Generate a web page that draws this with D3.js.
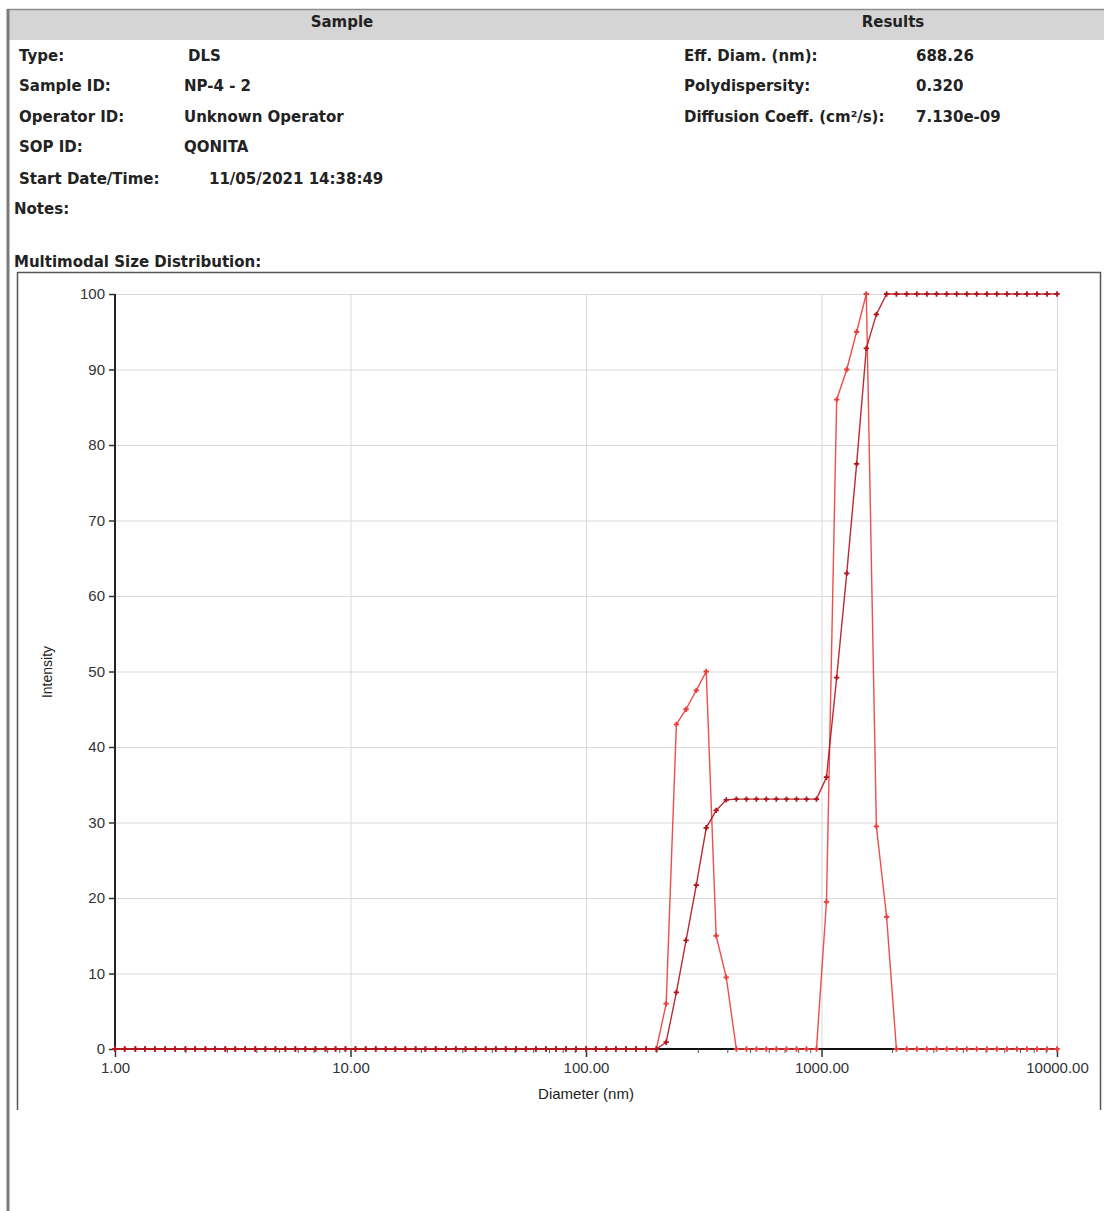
<!DOCTYPE html>
<html>
<head>
  <meta charset="utf-8">
  <script src="https://d3js.org/d3.v7.min.js"></script>
  <style>
    body { margin: 0; background: #fff; }
    svg { display: block; }
    .info { font-family: "DejaVu Sans", Verdana, sans-serif; font-size: 15px; font-weight: bold; fill: #222; }
    .head { font-family: "DejaVu Sans", Verdana, sans-serif; font-size: 15px; font-weight: bold; fill: #222; }
    .axis text { font-family: "Liberation Sans", Arial, sans-serif; font-size: 15px; fill: #333; }
  </style>
</head>
<body>
<script>
// bin diameters (nm), one marker per bin
var diameters = [
  1.00, 1.10, 1.22, 1.34, 1.48, 1.63, 1.80, 1.99, 2.19, 2.42, 2.66, 2.94, 3.24, 3.57, 3.94, 4.35, 4.80, 5.29, 5.83, 6.43, 7.10, 7.83, 8.64, 9.52,
  10.5, 11.6, 12.8, 14.1, 15.5, 17.1, 18.9, 20.8, 23.0, 25.4, 28.0, 30.8, 34.0, 37.5, 41.4, 45.6, 50.4, 55.5, 61.3, 67.6, 74.5, 82.2, 90.7,
  100, 110, 122, 134, 148, 163, 180, 199, 219, 242, 266, 294, 324, 357, 394, 435, 480, 529, 583, 643, 710, 783, 864, 952,
  1050, 1160, 1280, 1410, 1550, 1710, 1890, 2080, 2300, 2540, 2800, 3080, 3400, 3750, 4140, 4560, 5040, 5550, 6130, 6760, 7450, 8220, 9070,
  10000
];

// intensity distribution
var intensity = [
  0, 0, 0, 0, 0, 0, 0, 0, 0, 0, 0, 0, 0, 0, 0, 0, 0, 0, 0, 0, 0, 0, 0, 0,
  0, 0, 0, 0, 0, 0, 0, 0, 0, 0, 0, 0, 0, 0, 0, 0, 0, 0, 0, 0, 0, 0, 0,
  0, 0, 0, 0, 0, 0, 0, 0, 6, 43, 45, 47.5, 50, 15, 9.5, 0, 0, 0, 0, 0, 0, 0, 0, 0,
  19.5, 86, 90, 95, 100, 29.5, 17.5, 0, 0, 0, 0, 0, 0, 0, 0, 0, 0, 0, 0, 0, 0, 0, 0,
  0
];

// cumulative intensity
var cumulative = [
  0, 0, 0, 0, 0, 0, 0, 0, 0, 0, 0, 0, 0, 0, 0, 0, 0, 0, 0, 0, 0, 0, 0, 0,
  0, 0, 0, 0, 0, 0, 0, 0, 0, 0, 0, 0, 0, 0, 0, 0, 0, 0, 0, 0, 0, 0, 0,
  0, 0, 0, 0, 0, 0, 0, 0, 0.9, 7.5, 14.4, 21.7, 29.3, 31.6, 33.0, 33.1, 33.1, 33.1, 33.1, 33.1, 33.1, 33.1, 33.1, 33.1,
  36.0, 49.2, 63.0, 77.5, 92.8, 97.3, 100, 100, 100, 100, 100, 100, 100, 100, 100, 100, 100, 100, 100, 100, 100, 100, 100,
  100
];

var yTicks = [0, 10, 20, 30, 40, 50, 60, 70, 80, 90, 100];
var xTicks = [1, 10, 100, 1000, 10000];
var xTickLabels = ["1.00", "10.00", "100.00", "1000.00", "10000.00"];

var sampleLabels = ["Type:", "Sample ID:", "Operator ID:", "SOP ID:", "Start Date/Time:"];
var sampleValues = ["DLS", "NP-4 - 2", "Unknown Operator", "QONITA", "11/05/2021 14:38:49"];
var resultLabels = ["Eff. Diam. (nm):", "Polydispersity:", "Diffusion Coeff. (cm\u00b2/s):"];
var resultValues = ["688.26", "0.320", "7.130e-09"];

function draw() {
  "use strict";

  var width = 1104, height = 1211;

  var svg = d3.select("body").append("svg")
      .attr("width", width)
      .attr("height", height);

  /* report frame and header */
  svg.append("rect").attr("x", 8).attr("y", 10).attr("width", width - 8).attr("height", 30).attr("fill", "#d5d5d5");
  svg.append("line").attr("x1", 7).attr("x2", width).attr("y1", 9.5).attr("y2", 9.5).attr("stroke", "#8c8c8c").attr("stroke-width", 1.5);
  svg.append("line").attr("x1", 8).attr("x2", 8).attr("y1", 9).attr("y2", height).attr("stroke", "#7a7a7a").attr("stroke-width", 3);

  svg.append("text").attr("class", "head").attr("x", 342).attr("y", 27).attr("text-anchor", "middle").text("Sample");
  svg.append("text").attr("class", "head").attr("x", 893).attr("y", 27).attr("text-anchor", "middle").text("Results");

  var rowY = [61, 91, 122, 152, 184];
  var valX = [188, 184, 184, 184, 209];
  sampleLabels.forEach(function (t, i) {
    svg.append("text").attr("class", "info").attr("x", 19).attr("y", rowY[i]).text(t);
    svg.append("text").attr("class", "info").attr("x", valX[i]).attr("y", rowY[i]).text(sampleValues[i]);
  });
  resultLabels.forEach(function (t, i) {
    svg.append("text").attr("class", "info").attr("x", 684).attr("y", rowY[i]).text(t);
    svg.append("text").attr("class", "info").attr("x", 916).attr("y", rowY[i]).text(resultValues[i]);
  });
  svg.append("text").attr("class", "info").attr("x", 14).attr("y", 214).text("Notes:");
  svg.append("text").attr("class", "info").attr("x", 14).attr("y", 267).text("Multimodal Size Distribution:");

  // chart box (open at the bottom)
  svg.append("path")
      .attr("d", "M17.5,1110 V272.5 H1100.5 V1110")
      .attr("fill", "none").attr("stroke", "#555").attr("stroke-width", 1.5);

  /* chart */
  var x = d3.scaleLog().domain([1, 10000]).range([115, 1057]);
  var y = d3.scaleLinear().domain([0, 100]).range([1049, 294]);

  var minor = [];
  [1, 10, 100, 1000].forEach(function (d) {
    for (var m = 2; m <= 9; m++) minor.push(d * m);
  });

  var grid = svg.append("g").attr("class", "grid");
  grid.selectAll("line.h").data(yTicks.slice(1)).enter().append("line")
      .attr("x1", x(1)).attr("x2", x(10000))
      .attr("y1", function (d) { return y(d) + 0.5; })
      .attr("y2", function (d) { return y(d) + 0.5; })
      .attr("stroke", "#d9d9d9");
  grid.selectAll("line.v").data(xTicks.slice(1)).enter().append("line")
      .attr("x1", function (d) { return x(d) + 0.5; })
      .attr("x2", function (d) { return x(d) + 0.5; })
      .attr("y1", y(100)).attr("y2", y(0))
      .attr("stroke", "#d9d9d9");

  // x axis
  var xAxis = svg.append("g").attr("class", "axis")
      .attr("transform", "translate(0," + y(0) + ")")
      .call(d3.axisBottom(x).tickValues(xTicks).tickSize(8).tickPadding(5)
        .tickFormat(function (d, i) { return xTickLabels[i]; }));
  xAxis.select(".domain").attr("stroke", "#111").attr("stroke-width", 2).attr("d", "M" + x(1) + ",0H" + x(10000));
  xAxis.selectAll(".tick line").attr("stroke", "#333").attr("stroke-width", 1.5);
  xAxis.selectAll(".minor").data(minor).enter().append("line")
      .attr("x1", function (d) { return x(d); }).attr("x2", function (d) { return x(d); })
      .attr("y1", 0).attr("y2", 4).attr("stroke", "#555");

  // y axis
  var yAxis = svg.append("g").attr("class", "axis")
      .attr("transform", "translate(" + x(1) + ",0)")
      .call(d3.axisLeft(y).tickValues(yTicks).tickSize(6).tickPadding(4));
  yAxis.select(".domain").attr("stroke", "#222").attr("stroke-width", 2).attr("d", "M0," + y(100) + "V" + y(0));
  yAxis.selectAll(".tick line").attr("stroke", "#333").attr("stroke-width", 1.5);

  svg.append("text").attr("class", "axis")
      .attr("x", 586).attr("y", 1099).attr("text-anchor", "middle")
      .style("font-family", "Liberation Sans, Arial, sans-serif").style("font-size", "15px").style("fill", "#222")
      .text("Diameter (nm)");
  svg.append("text")
      .attr("transform", "translate(52,672) rotate(-90)").attr("text-anchor", "middle")
      .style("font-family", "Liberation Sans, Arial, sans-serif").style("font-size", "14px").style("fill", "#222")
      .text("Intensity");

  // series
  var series = [
    { values: intensity, color: "#ee3a3a", width: 1.4 },
    { values: cumulative, color: "#b3141c", width: 1.4 }
  ];
  var line = d3.line()
      .x(function (d) { return x(d[0]); })
      .y(function (d) { return y(d[1]); });
  var marker = d3.symbol().type(d3.symbolCross).size(16);

  series.forEach(function (s) {
    var pts = diameters.map(function (d, i) { return [d, s.values[i]]; });
    svg.append("path").datum(pts)
        .attr("fill", "none").attr("stroke", s.color).attr("stroke-width", s.width)
        .attr("stroke-opacity", 0.9)
        .attr("d", line);
    svg.append("g").selectAll("path").data(pts).enter().append("path")
        .attr("transform", function (d) { return "translate(" + x(d[0]) + "," + y(d[1]) + ")"; })
        .attr("d", marker)
        .attr("fill", s.color);
  });
}

draw();
</script>
</body>
</html>
